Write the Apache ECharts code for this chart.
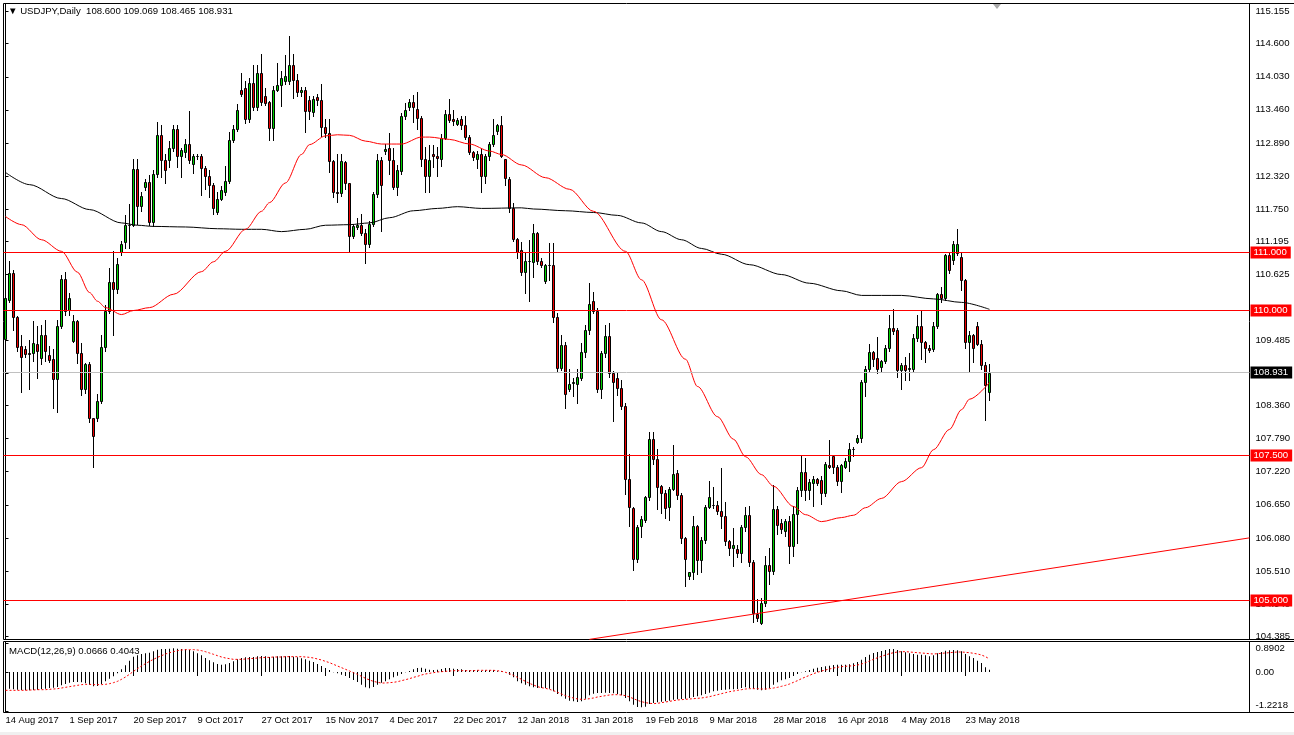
<!DOCTYPE html>
<html><head><meta charset="utf-8">
<script src="https://cdn.jsdelivr.net/npm/echarts@6/dist/echarts.min.js"></script>
<style>html,body{margin:0;padding:0;background:#fff;}#c{width:1294px;height:735px;}</style>
</head><body><div id="c"></div>
<script>
const symbolTitle = 'USDJPY,Daily';
const macdTitle = 'MACD(12,26,9)';
const tickLabels = ['14 Aug 2017','1 Sep 2017','20 Sep 2017','9 Oct 2017','27 Oct 2017','15 Nov 2017','4 Dec 2017','22 Dec 2017','12 Jan 2018','31 Jan 2018','19 Feb 2018','9 Mar 2018','28 Mar 2018','16 Apr 2018','4 May 2018','23 May 2018'];
const tickBars = [0,16,32,48,64,80,96,112,128,144,160,176,192,208,224,240];
const priceTicks = [115.155,114.600,114.030,113.460,112.890,112.320,111.750,111.195,110.625,109.485,108.925,108.360,107.790,107.220,106.650,106.080,105.510,104.940,104.385];
const macdTicks = [0.8902, 0, -1.2218];
const levels = [111, 110, 107.5, 105];
const priceLine = 108.931;
const trendLine = [[146, 104.33], [311, 106.08]];
// [open, close, low, high]
const candles = [
[109.51,110.22,109.41,110.24],[110.18,110.64,110.15,110.86],[110.64,109.88,109.67,110.70],[109.88,109.37,109.30,109.90],[109.38,109.20,108.59,109.58],
[109.34,109.25,109.20,109.38],[109.26,109.25,108.64,109.50],[109.26,109.44,109.13,109.82],[109.42,109.31,108.84,109.73],[109.18,109.58,109.07,109.75],
[109.58,109.31,109.13,109.84],[109.24,109.15,109.11,109.38],[109.17,108.82,108.32,109.33],[108.82,109.74,108.25,109.84],[109.74,110.54,109.70,110.62],
[110.54,110.00,109.92,110.66],[110.01,110.21,109.93,110.30],[109.48,109.82,109.45,109.93],[109.82,109.27,109.10,109.84],[109.27,108.65,108.55,109.44],
[108.65,109.07,108.58,109.10],[109.08,108.14,108.07,109.11],[108.14,107.83,107.30,108.15],[108.15,108.44,108.10,108.56],[108.44,109.37,108.40,109.58],
[109.37,110.00,109.30,110.10],[110.00,110.49,109.95,110.73],[110.50,110.37,109.58,111.03],[110.37,110.81,110.30,110.90],[111.01,111.15,110.95,111.20],
[111.18,111.47,111.07,111.64],[111.47,111.48,111.07,111.84],[111.47,112.44,111.45,112.62],[112.44,111.81,111.50,112.62],[111.81,111.97,111.72,112.05],
[112.13,112.22,112.07,112.27],[112.22,111.52,111.47,112.33],[111.52,112.36,111.45,112.42],[112.36,113.02,112.30,113.25],[113.02,112.60,112.30,113.19],
[112.60,112.43,112.20,112.70],[112.60,112.81,112.47,112.93],[112.81,113.13,112.75,113.19],[113.13,112.67,112.47,113.19],[112.67,112.76,112.31,112.80],
[112.73,112.87,112.65,112.95],[112.87,112.60,112.55,113.44],[112.53,112.66,112.37,112.70],[112.66,112.67,112.62,112.70],[112.67,112.46,111.99,112.70],
[112.46,112.32,112.10,112.50],[112.32,112.17,111.95,112.42],[112.17,111.77,111.67,112.20],[111.70,111.93,111.66,112.04],[111.93,112.07,111.90,112.15],
[112.05,112.23,112.00,112.50],[112.23,112.94,112.20,113.07],[112.94,113.13,112.90,113.20],[113.13,113.46,113.10,113.56],[113.81,113.73,113.70,114.10],
[113.83,113.30,113.24,113.95],[113.30,113.93,113.25,114.01],[113.93,113.50,113.45,114.24],[113.50,114.09,113.45,114.24],[114.09,113.60,113.55,114.43],
[113.70,113.57,113.55,113.83],[113.59,113.14,112.94,113.62],[113.14,113.81,112.94,113.87],[113.81,113.88,113.78,114.27],[113.88,114.01,113.53,114.13],
[113.96,114.05,113.90,114.40],[113.96,114.24,113.90,114.73],[114.24,113.97,113.67,114.43],[113.97,113.77,113.70,114.07],[113.77,113.81,113.70,113.85],
[113.81,113.44,113.07,113.85],[113.63,113.44,113.30,113.70],[113.43,113.65,113.35,113.70],[113.68,113.63,113.55,113.73],[113.63,113.17,113.01,113.91],
[113.17,113.06,113.00,113.30],[113.06,112.58,112.38,113.30],[112.58,112.04,111.95,112.60],[112.04,112.03,111.87,112.69],[112.02,112.58,111.98,112.70],
[112.56,112.19,112.10,112.58],[112.19,111.29,111.03,112.20],[111.29,111.46,111.25,111.50],[111.44,111.48,111.40,111.60],[111.48,111.34,111.30,111.67],
[111.34,111.15,110.82,111.40],[111.15,111.50,111.10,111.55],[111.50,112.01,111.45,112.05],[112.01,112.60,111.95,112.69],[112.60,112.17,111.37,112.65],
[112.75,112.78,112.70,112.87],[112.80,112.59,112.36,113.06],[112.59,112.13,112.10,112.80],[112.13,112.43,111.99,112.51],[112.40,113.35,112.35,113.40],
[113.35,113.45,113.30,113.58],[113.50,113.60,113.45,113.65],[113.60,113.50,113.25,113.72],[113.48,113.32,113.13,113.76],[113.32,112.62,112.50,113.35],
[112.62,112.32,112.04,112.82],[112.32,112.59,112.04,112.85],[112.70,112.66,112.47,112.85],[112.67,112.63,112.32,112.82],[112.62,112.97,112.50,113.05],
[112.97,113.39,112.95,113.46],[113.38,113.29,113.25,113.65],[113.30,113.26,113.20,113.45],[113.22,113.29,113.20,113.32],[113.30,113.20,113.13,113.36],
[113.20,112.99,112.96,113.36],[112.99,112.73,112.70,113.02],[112.74,112.65,112.60,112.75],[112.62,112.70,112.46,112.75],[112.70,112.32,112.04,112.79],
[112.32,112.66,112.19,112.70],[112.66,112.87,112.60,112.90],[112.87,113.02,112.84,113.30],[113.09,113.19,113.05,113.22],[113.19,112.67,112.65,113.36],
[112.61,112.28,112.16,112.62],[112.27,111.76,111.70,112.30],[111.76,111.23,111.20,111.86],[111.23,111.01,110.91,111.25],[111.05,110.67,110.61,111.18],
[110.67,110.85,110.31,111.00],[110.85,110.86,110.17,111.21],[110.84,111.34,110.58,111.50],[111.34,110.85,110.80,111.36],[110.85,110.78,110.75,110.90],
[110.51,110.78,110.47,110.80],[110.78,110.79,110.52,111.16],[110.78,109.88,109.81,111.16],[109.88,109.01,108.95,109.95],[109.01,109.41,108.98,109.58],
[109.41,108.56,108.32,109.45],[108.65,108.74,108.62,108.99],[108.75,108.76,108.52,108.83],[108.74,108.85,108.40,108.99],[108.83,109.28,108.80,109.44],
[109.28,109.67,109.20,109.75],[109.67,110.12,109.60,110.47],[110.16,110.00,109.95,110.32],[110.00,108.65,108.60,110.05],[108.65,109.26,108.50,109.30],
[109.26,109.56,109.20,109.75],[109.56,108.92,108.85,109.78],[108.92,108.76,108.10,108.95],[108.83,108.66,108.55,108.93],[108.66,108.35,108.30,108.81],
[108.35,107.10,106.84,108.40],[107.10,106.61,106.29,107.53],[106.59,105.71,105.53,106.62],[105.71,106.26,105.66,106.30],[106.29,106.41,106.09,106.45],
[106.38,106.78,106.35,106.80],[106.78,107.79,106.74,107.91],[107.79,107.44,107.35,107.91],[107.44,106.96,106.58,107.62],[106.98,106.85,106.51,107.00],
[106.85,106.60,106.43,106.90],[106.62,106.93,106.38,106.96],[106.93,107.18,106.90,107.68],[107.19,106.82,106.75,107.25],[106.82,106.07,106.00,106.85],
[106.07,105.71,105.25,106.10],[105.42,105.49,105.37,105.50],[105.49,106.28,105.37,106.46],[106.28,105.69,105.46,106.30],[105.69,106.05,105.50,106.10],
[106.05,106.62,106.00,106.65],[106.62,106.78,106.60,107.06],[106.64,106.65,106.60,106.95],[106.64,106.55,106.50,106.72],[106.55,106.45,106.25,107.29],
[106.45,106.02,105.95,106.69],[106.02,105.90,105.78,106.05],[105.90,105.96,105.60,106.25],[105.89,105.82,105.75,105.95],[105.82,106.26,105.67,106.30],
[106.26,106.47,106.20,106.62],[106.47,105.67,105.60,106.63],[105.67,104.78,104.63,105.70],[104.77,104.70,104.65,105.02],[104.62,104.95,104.59,105.05],
[104.95,105.62,104.90,105.76],[105.62,105.51,105.28,105.91],[105.51,106.57,105.45,107.00],[106.57,106.31,106.14,106.63],[106.33,106.23,106.17,106.40],
[106.20,106.37,106.11,106.40],[106.37,105.94,105.65,106.46],[105.94,106.50,105.77,106.63],[106.50,106.91,106.00,106.95],[106.90,107.22,106.81,107.49],
[107.22,106.90,106.74,107.46],[106.91,107.04,106.75,107.10],[107.03,107.09,106.63,107.14],[107.09,107.03,107.00,107.11],[107.07,106.86,106.66,107.14],
[106.86,107.36,106.80,107.38],[107.34,107.31,107.28,107.77],[107.49,107.31,107.20,107.50],[107.31,107.06,107.00,107.33],[107.06,107.33,106.87,107.35],
[107.31,107.40,107.28,107.45],[107.40,107.61,107.23,107.72],[107.61,107.62,107.49,107.65],[107.74,107.80,107.72,107.86],[107.80,108.77,107.74,108.80],
[108.77,109.00,108.53,109.05],[109.00,109.28,108.95,109.43],[109.28,109.16,109.04,109.30],[109.18,109.00,108.92,109.55],[109.03,109.13,108.94,109.15],
[109.13,109.35,109.10,109.40],[109.35,109.69,109.30,109.92],[109.69,109.65,109.60,110.02],[109.67,108.97,108.86,109.70],[108.97,109.06,108.64,109.10],
[109.06,108.97,108.80,109.20],[109.00,109.01,108.80,109.26],[109.00,109.52,108.95,109.60],[109.52,109.73,109.48,109.92],[109.73,109.46,109.17,109.99],
[109.46,109.35,109.12,109.47],[109.35,109.32,109.28,109.40],[109.33,109.73,109.30,109.80],[109.73,110.28,109.70,110.30],[110.28,110.21,110.15,110.41],
[110.21,110.95,110.18,110.98],[110.95,110.70,110.65,111.00],[110.87,111.14,110.80,111.20],[110.99,111.14,110.95,111.40],[110.93,110.52,110.36,111.00],
[110.52,109.46,109.35,110.55],[109.46,109.58,108.95,109.65],[109.58,109.35,109.12,109.60],[109.73,109.43,109.40,109.81],[109.43,109.06,109.00,109.50],
[109.06,108.71,108.11,109.12],[108.600,108.931,108.465,109.069]
];
// [bar, value]
const ma50 = [[0,111.62],[4,111.48],[9,111.22],[14,111.02],[18,110.66],[21,110.31],[23,110.16],[25,110.05],[29,109.93],[32,110.0],[36,110.05],[42,110.28],[49,110.67],[52,110.84],[55,111.02],[60,111.40],[64,111.71],[66,111.86],[70,112.20],[74,112.69],[76,112.86],[80,113.01],[83,113.03],[86,113.02],[90,112.92],[94,112.87],[99,112.87],[104,112.99],[106,112.99],[111,112.95],[116,112.87],[121,112.75],[124,112.69],[129,112.51],[135,112.29],[141,112.09],[147,111.71],[155,111.02],[159,110.53],[164,109.84],[170,109.16],[173,108.69],[178,108.17],[182,107.78],[185,107.48],[189,107.17],[192,106.97],[197,106.62],[200,106.48],[204,106.36],[209,106.43],[212,106.47],[215,106.60],[219,106.76],[224,107.05],[229,107.29],[232,107.60],[236,107.95],[239,108.29],[241,108.47],[246,108.76]];
const ma200 = [[0,112.38],[6,112.17],[14,111.93],[21,111.74],[29,111.51],[33,111.47],[37,111.45],[45,111.44],[53,111.41],[59,111.40],[64,111.40],[69,111.36],[75,111.40],[80,111.47],[86,111.48],[91,111.51],[96,111.60],[102,111.72],[108,111.76],[113,111.79],[119,111.76],[129,111.77],[132,111.75],[140,111.72],[147,111.69],[153,111.64],[159,111.51],[164,111.36],[169,111.22],[174,111.07],[179,110.97],[186,110.79],[194,110.62],[201,110.47],[209,110.34],[214,110.26],[224,110.26],[232,110.20],[239,110.14],[246,110.02]];
const macdMain = [
-0.497,-0.518,-0.538,-0.549,-0.559,-0.569,-0.569,-0.559,-0.549,-0.528,
-0.518,-0.497,-0.487,-0.466,-0.414,-0.373,-0.331,-0.311,-0.311,-0.321,
-0.352,-0.393,-0.445,-0.435,-0.373,-0.290,-0.207,-0.135,-0.041,0.083,
0.207,0.352,0.476,0.518,0.559,0.580,0.600,0.642,0.694,0.714,
0.714,0.725,0.735,0.725,0.714,0.704,0.683,0.642,0.580,0.518,
0.435,0.362,0.300,0.248,0.228,0.238,0.280,0.331,0.393,0.435,
0.455,0.466,0.466,0.487,0.497,0.487,0.466,0.476,0.487,0.487,
0.487,0.497,0.476,0.455,0.424,0.393,0.352,0.311,0.248,0.186,
0.124,0.062,-0.005,-0.041,-0.083,-0.124,-0.186,-0.248,-0.311,-0.393,
-0.476,-0.507,-0.466,-0.393,-0.331,-0.290,-0.228,-0.166,-0.114,-0.062,
-0.010,0.031,0.083,0.124,0.135,0.104,0.072,0.062,0.072,0.093,
0.124,0.124,0.104,0.093,0.083,0.062,0.052,0.062,0.052,0.041,
0.052,0.062,0.062,0.021,0.021,-0.010,-0.083,-0.166,-0.290,-0.352,
-0.393,-0.445,-0.476,-0.497,-0.497,-0.497,-0.518,-0.600,-0.683,-0.756,
-0.828,-0.890,-0.911,-0.932,-0.911,-0.828,-0.725,-0.673,-0.652,-0.652,
-0.642,-0.652,-0.663,-0.683,-0.725,-0.807,-0.911,-1.014,-1.087,-1.097,
-1.077,-0.994,-0.963,-0.942,-0.921,-0.911,-0.890,-0.859,-0.849,-0.838,
-0.828,-0.807,-0.776,-0.756,-0.725,-0.683,-0.642,-0.600,-0.580,-0.559,
-0.549,-0.538,-0.538,-0.528,-0.497,-0.476,-0.497,-0.518,-0.549,-0.569,
-0.549,-0.497,-0.393,-0.321,-0.259,-0.228,-0.186,-0.124,-0.062,-0.010,
0.021,0.062,0.104,0.135,0.155,0.176,0.197,0.217,0.228,0.228,
0.228,0.238,0.269,0.311,0.383,0.466,0.538,0.590,0.621,0.652,
0.683,0.714,0.714,0.683,0.642,0.611,0.580,0.559,0.538,0.538,
0.518,0.487,0.518,0.580,0.621,0.663,0.673,0.683,0.673,0.642,
0.559,0.487,0.435,0.352,0.280,0.145,0.0666];
const macdSignal = [
-0.569,-0.569,-0.569,-0.569,-0.569,-0.569,-0.559,-0.559,-0.549,-0.549,
-0.549,-0.538,-0.528,-0.518,-0.497,-0.476,-0.455,-0.435,-0.414,-0.393,
-0.383,-0.383,-0.393,-0.393,-0.393,-0.383,-0.362,-0.331,-0.290,-0.228,
-0.155,-0.072,0.021,0.104,0.186,0.259,0.331,0.393,0.455,0.507,
0.559,0.600,0.631,0.663,0.683,0.694,0.694,0.694,0.683,0.663,
0.631,0.590,0.549,0.507,0.466,0.435,0.414,0.393,0.393,0.393,
0.404,0.414,0.424,0.435,0.445,0.455,0.455,0.466,0.466,0.466,
0.476,0.476,0.476,0.476,0.476,0.466,0.455,0.435,0.404,0.373,
0.331,0.290,0.238,0.186,0.135,0.083,0.031,-0.021,-0.072,-0.135,
-0.197,-0.248,-0.290,-0.321,-0.342,-0.342,-0.331,-0.321,-0.300,-0.269,
-0.238,-0.207,-0.166,-0.135,-0.093,-0.062,-0.041,-0.021,0.000,0.010,
0.021,0.031,0.041,0.041,0.041,0.041,0.041,0.041,0.052,0.052,
0.052,0.052,0.052,0.041,0.021,-0.010,-0.052,-0.104,-0.166,-0.228,
-0.290,-0.352,-0.404,-0.455,-0.487,-0.507,-0.538,-0.580,-0.631,-0.683,
-0.735,-0.776,-0.807,-0.838,-0.849,-0.849,-0.828,-0.807,-0.776,-0.756,
-0.735,-0.714,-0.704,-0.704,-0.714,-0.735,-0.776,-0.828,-0.880,-0.921,
-0.952,-0.973,-0.983,-0.973,-0.952,-0.932,-0.911,-0.890,-0.870,-0.859,
-0.849,-0.838,-0.828,-0.818,-0.807,-0.787,-0.766,-0.735,-0.704,-0.673,
-0.642,-0.611,-0.590,-0.569,-0.549,-0.528,-0.518,-0.518,-0.518,-0.528,
-0.528,-0.518,-0.497,-0.476,-0.445,-0.414,-0.373,-0.321,-0.269,-0.207,
-0.155,-0.104,-0.052,-0.010,0.031,0.062,0.093,0.124,0.145,0.166,
0.176,0.186,0.197,0.217,0.248,0.290,0.342,0.393,0.445,0.487,
0.528,0.569,0.600,0.621,0.631,0.631,0.621,0.611,0.600,0.590,
0.580,0.569,0.559,0.569,0.580,0.590,0.600,0.611,0.621,0.621,
0.611,0.600,0.580,0.559,0.528,0.476,0.4043];

const FONT = '"Liberation Sans", Arial, sans-serif';
const BULL = '#00d200', BEAR = '#ee0000';
const last = candles[candles.length - 1];
const headerText = '\u25BC ' + symbolTitle + '  ' + [last[0], last[3], last[2], last[1]].map(v => v.toFixed(3)).join(' ');
const macdText = macdTitle + ' ' + macdMain[macdMain.length - 1].toFixed(4) + ' ' + macdSignal[macdSignal.length - 1].toFixed(4);

function levelLine(v, color, bg) {
  return {
    yAxis: v,
    lineStyle: {color: color, width: 1, type: 'solid'},
    label: {show: true, position: 'end', distance: 1, formatter: v.toFixed(3), color: '#fff',
      backgroundColor: bg, padding: [1, 4, 1, 3], fontSize: 9.6, fontFamily: FONT}
  };
}

// crisp MT4-style candle drawn through the axes' own coordinate mapping
function renderCandle(params, api) {
  const i = api.value(0), o = api.value(1), c = api.value(2), l = api.value(3), h = api.value(4);
  const pO = api.coord([i, o]), pC = api.coord([i, c]), pL = api.coord([i, l]), pH = api.coord([i, h]);
  const x = Math.floor(pO[0]) + 0.5;
  const top = Math.round(Math.min(pO[1], pC[1])) + 0.5;
  const bot = Math.round(Math.max(pO[1], pC[1])) + 0.5;
  const yH = Math.round(pH[1]), yL = Math.round(pL[1]) + 1;
  return {
    type: 'group',
    children: [
      {type: 'line', shape: {x1: x, y1: Math.min(yH, top), x2: x, y2: top}, style: {stroke: '#000', lineWidth: 1}},
      {type: 'line', shape: {x1: x, y1: bot, x2: x, y2: Math.max(yL, bot)}, style: {stroke: '#000', lineWidth: 1}},
      {type: 'rect', shape: {x: x - 1, y: top, width: 2, height: Math.max(bot - top, 0)},
        style: {fill: c >= o ? BULL : BEAR, stroke: '#000', lineWidth: 1}}
    ]
  };
}

const chart = echarts.init(document.getElementById('c'));
chart.setOption({
  animation: false,
  backgroundColor: '#ffffff',
  title: [
    {text: headerText, left: 8, top: 6, padding: 0, textStyle: {fontSize: 9.6, fontWeight: 'normal', color: '#000', fontFamily: FONT}},
    {text: macdText, left: 9, top: 646, padding: 0, textStyle: {fontSize: 9.6, fontWeight: 'normal', color: '#000', fontFamily: FONT}}
  ],
  grid: [
    {left: 3.5, top: 3.5, width: 1246, height: 636, show: true, borderColor: '#000', borderWidth: 1, containLabel: false, outerBoundsMode: 'none'},
    {left: 3.5, top: 641.5, width: 1246, height: 71, show: true, borderColor: '#000', borderWidth: 1, containLabel: false, outerBoundsMode: 'none'}
  ],
  xAxis: [
    {type: 'value', gridIndex: 0, min: -0.5, max: 311, show: false, splitLine: {show: false}},
    {type: 'value', gridIndex: 1, min: -0.5, max: 311, splitLine: {show: false}, axisLine: {show: false},
      axisTick: {show: true, customValues: tickBars, length: 4, lineStyle: {color: '#000'}},
      axisLabel: {customValues: tickBars, formatter: v => tickLabels[tickBars.indexOf(Math.round(v))] || '',
        align: 'left', margin: 3, fontSize: 9.4, color: '#000', fontFamily: FONT}}
  ],
  yAxis: [
    {type: 'value', gridIndex: 0, position: 'right', min: 104.3276, max: 115.2931, splitLine: {show: false},
      axisLine: {show: true, lineStyle: {color: '#000'}},
      axisTick: {show: true, customValues: priceTicks, length: 3, lineStyle: {color: '#000'}},
      axisLabel: {customValues: priceTicks, formatter: v => v.toFixed(3), margin: 6, fontSize: 9.6, color: '#000', fontFamily: FONT}},
    {type: 'value', gridIndex: 1, position: 'right', min: -1.2578, max: 0.9472, splitLine: {show: false},
      axisLine: {show: true, lineStyle: {color: '#000'}},
      axisTick: {show: true, customValues: macdTicks, length: 3, lineStyle: {color: '#000'}},
      axisLabel: {customValues: macdTicks, margin: 6, fontSize: 9.6, color: '#000', fontFamily: FONT,
        formatter: v => v === 0 ? '0.00' : (v > 0 ? '{t|' + v.toFixed(4) + '}' : '{b|' + v.toFixed(4) + '}'),
        rich: {t: {padding: [11, 0, 0, 0], fontSize: 9.6, fontFamily: FONT, color: '#000'},
               b: {padding: [0, 0, 12, 0], fontSize: 9.6, fontFamily: FONT, color: '#000'}}}}
  ],
  series: [
    {type: 'custom', xAxisIndex: 0, yAxisIndex: 0, renderItem: renderCandle, clip: true,
      data: candles.map((r, i) => [i, r[0], r[1], r[2], r[3]]),
      encode: {x: 0, y: [1, 2, 3, 4]}},
    {type: 'line', xAxisIndex: 0, yAxisIndex: 0, data: [], symbol: 'none',
      markLine: {symbol: ['none', 'none'], silent: true, animation: false,
        data: levels.map(v => levelLine(v, '#ff0000', '#ff0000')).concat([levelLine(priceLine, '#c0c0c0', '#000000')])}},
    {type: 'line', xAxisIndex: 0, yAxisIndex: 0, data: ma200, symbol: 'none', smooth: 0.3, smoothMonotone: 'x',
      lineStyle: {color: '#000', width: 1}},
    {type: 'line', xAxisIndex: 0, yAxisIndex: 0, data: ma50, symbol: 'none', smooth: 0.3, smoothMonotone: 'x',
      lineStyle: {color: '#ff0000', width: 1}},
    {type: 'line', xAxisIndex: 0, yAxisIndex: 0, data: trendLine, symbol: 'none',
      lineStyle: {color: '#ff0000', width: 1}},
    {type: 'bar', xAxisIndex: 1, yAxisIndex: 1, barWidth: 1, data: macdMain.map((v, i) => [i, v]),
      itemStyle: {color: '#000'}},
    {type: 'line', xAxisIndex: 1, yAxisIndex: 1, data: macdSignal.map((v, i) => [i, v]), symbol: 'none',
      lineStyle: {color: '#ff0000', width: 1, type: [2, 2]}}
  ],
  graphic: [
    {type: 'polygon', shape: {points: [[993, 4], [1001, 4], [997, 9]]}, style: {fill: '#a8a8a8'}},
    {type: 'line', shape: {x1: 1249, y1: 3.5, x2: 1294, y2: 3.5}, style: {stroke: '#000', lineWidth: 1}},
    {type: 'line', shape: {x1: 1249, y1: 639.5, x2: 1294, y2: 639.5}, style: {stroke: '#000', lineWidth: 1}},
    {type: 'line', shape: {x1: 1249, y1: 641.5, x2: 1294, y2: 641.5}, style: {stroke: '#000', lineWidth: 1}},
    {type: 'line', shape: {x1: 1249, y1: 712.5, x2: 1294, y2: 712.5}, style: {stroke: '#000', lineWidth: 1}},
    {type: 'rect', shape: {x: 0, y: 732, width: 1294, height: 3}, style: {fill: '#f0f0f0'}}
  ]
});
</script>
</body></html>
